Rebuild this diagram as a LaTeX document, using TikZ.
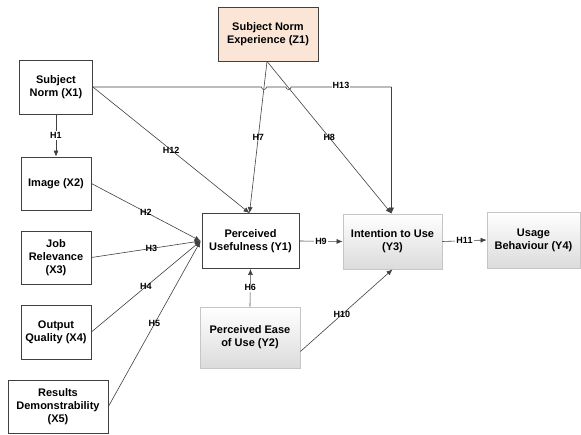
\documentclass[tikz,border=0pt]{standalone}
\usepackage{fontspec}
\setmainfont{Liberation Sans}
\usetikzlibrary{arrows.meta}
\definecolor{peach}{HTML}{FBE5D6}
\definecolor{lineg}{HTML}{404040}
\tikzset{
  box/.style={draw=lineg, line width=0.8pt, fill=white, align=center, font=\bfseries\fontsize{11}{13}\selectfont, inner sep=1pt},
  gbox/.style={draw=gray!45, line width=0.8pt, top color=white, bottom color=gray!28, align=center, font=\bfseries\fontsize{11}{13}\selectfont, inner sep=1pt},
  link/.style={draw=lineg, line width=0.6pt, -{Latex[length=6pt,width=5pt]}},
  hl/.style={font=\bfseries\fontsize{9}{10}\selectfont, inner sep=1pt, text=black},
  hlw/.style={hl, fill=white}
}
\begin{document}
\begin{tikzpicture}[x=1pt,y=-1pt]
\useasboundingbox (0,0) rectangle (581,434);
% nodes
\node[box, fill=peach, minimum width=100, minimum height=54] (Z1) at (268,34) {Subject Norm\\Experience (Z1)};
\node[box, minimum width=73, minimum height=54] (X1) at (56,87) {Subject\\Norm (X1)};
\node[box, minimum width=70, minimum height=53] (X2) at (56,183.5) {Image (X2)};
\node[box, minimum width=70, minimum height=53] (X3) at (56,257.5) {Job\\Relevance\\(X3)};
\node[box, minimum width=70, minimum height=54] (X4) at (56,332) {Output\\Quality (X4)};
\node[box, minimum width=100, minimum height=53] (X5) at (58,406.5) {Results\\Demonstrability\\(X5)};
\node[box, minimum width=97, minimum height=55] (Y1) at (250.5,241) {Perceived\\Usefulness (Y1)};
\node[gbox, minimum width=100, minimum height=61] (Y2) at (250,337.5) {Perceived Ease\\of Use (Y2)};
\node[gbox, minimum width=99, minimum height=55] (Y3) at (392.5,241.5) {Intention to Use\\(Y3)};
\node[gbox, minimum width=93, minimum height=56] (Y4) at (533.5,240) {Usage\\Behaviour (Y4)};
% helper coordinates
\coordinate (y1in) at ([xshift=-1pt]Y1.west);
\coordinate (y1top) at ([xshift=-1pt]Y1.north);
\coordinate (z1b) at ([xshift=-1pt]Z1.south);
\coordinate (y3top) at ([xshift=-1pt]Y3.north);
\coordinate (corner) at (y3top |- X1.east);
% H1
\draw[link] (X1.south) -- node[hlw]{H1} (X2.north);
% H12
\draw[link] (X1.east) -- node[hl, pos=0.5]{H12} (y1top);
% H13 with hops
\draw[draw=lineg, line width=0.6pt] (X1.east) -- (261.5,87) arc[start angle=180, end angle=0, radius=2.5] -- (286,87) arc[start angle=180, end angle=0, radius=2.5] -- (corner);
\node[hlw, anchor=south, inner sep=0.5pt] (h13) at (341,89) {H13};
\draw[link] (corner) -- (y3top);
% H7, H8
\draw[link] (z1b) -- node[hl, pos=0.5]{H7} (y1top);
\draw[link] (z1b) -- node[hl, pos=0.5]{H8} (y3top);
% H2-H5
\draw[link] (X2.east) -- node[hl, pos=0.5]{H2} (y1in);
\draw[link] (X3.east) -- node[hl, pos=0.55]{H3} (y1in);
\draw[link] (X4.east) -- node[hl, pos=0.5]{H4} (y1in);
\draw[link] (X5.east) -- node[hl, pos=0.5]{H5} (y1in);
% H6
\draw[link] (Y2.north) -- node[hlw]{H6} (Y1.south);
% H9, H11
\draw[link] (Y1.east) -- node[hlw]{H9} (Y3.west);
\draw[link] (Y3.east) -- node[hlw]{H11} (Y4.west);
% H10
\draw[link] ([yshift=-14pt]Y2.east) -- node[hl, pos=0.45]{H10} (Y3.south);
\end{tikzpicture}
\end{document}
